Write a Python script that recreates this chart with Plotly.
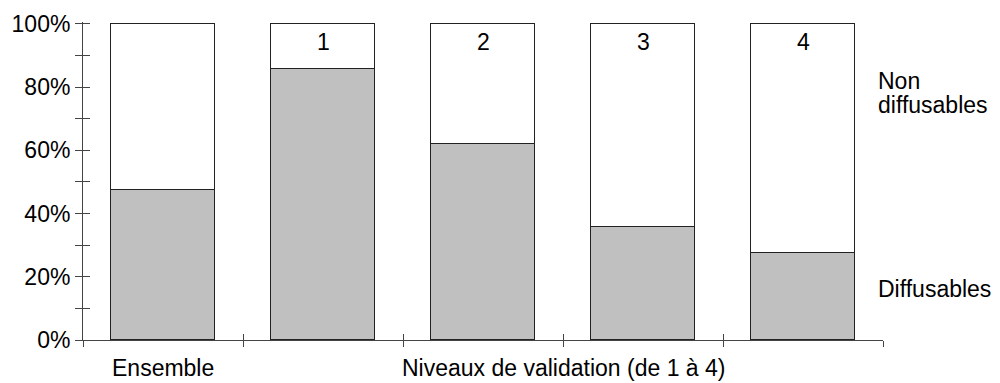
import plotly.graph_objects as go

# Part des enregistrements diffusables / non diffusables
categories = ["Ensemble", "1", "2", "3", "4"]
x_pos = [0, 1, 2, 3, 4]
diffusables = [47.5, 85.7, 62.0, 35.9, 27.4]
non_diffusables = [52.5, 14.3, 38.0, 64.1, 72.6]
y_ticks = [0, 10, 20, 30, 40, 50, 60, 70, 80, 90, 100]
y_ticktext = ["0%", "", "20%", "", "40%", "", "60%", "", "80%", "", "100%"]
x_bounds = [-0.5, 0.5, 1.5, 2.5, 3.5, 4.5]

FONT = "Liberation Sans, Arial, sans-serif"
AXIS = "#444444"
FS = 23
Y_RANGE = [0, 100.6]  # a little headroom so the bar tops are not clipped

fig = go.Figure()
fig.add_trace(go.Bar(x=x_pos, y=diffusables, width=0.65, name="Diffusables",
                     marker=dict(color="#c0c0c0", line=dict(color="#222222", width=1.2))))
fig.add_trace(go.Bar(x=x_pos, y=non_diffusables, width=0.65, name="Non diffusables",
                     marker=dict(color="#ffffff", line=dict(color="#222222", width=1.2))))
# empty trace so the overlay axes (ticks crossing the axis lines) are drawn
fig.add_trace(go.Scatter(x=[None], y=[None], xaxis="x2", yaxis="y2",
                         mode="markers", hoverinfo="skip"))

# level numbers at the top of bars 1-4
for xi, lab in zip(x_pos[1:], categories[1:]):
    fig.add_annotation(x=xi, y=94.3, text=lab, showarrow=False,
                       font=dict(size=FS, color="black"))

# category labels below the axis
fig.add_annotation(x=0, y=0, yshift=-28, text=categories[0], showarrow=False,
                   font=dict(size=FS, color="black"))
fig.add_annotation(x=2.5, y=0, yshift=-28, text="Niveaux de validation (de 1 à 4)",
                   showarrow=False, font=dict(size=FS, color="black"))

# series labels on the right
fig.add_annotation(xref="paper", yref="y", x=0.991, y=82, xanchor="left",
                   text="Non", showarrow=False, font=dict(size=FS, color="black"))
fig.add_annotation(xref="paper", yref="y", x=0.991, y=74.5, xanchor="left",
                   text="diffusables", showarrow=False, font=dict(size=FS, color="black"))
fig.add_annotation(xref="paper", yref="y", x=0.991, y=16, xanchor="left",
                   text="Diffusables", showarrow=False, font=dict(size=FS, color="black"))

fig.update_layout(
    width=1000, height=383,
    margin=dict(l=83, r=117, t=22, b=43),
    barmode="stack", bargap=0,
    showlegend=False,
    plot_bgcolor="white", paper_bgcolor="white",
    font=dict(family=FONT, size=FS, color="black"),
    xaxis=dict(range=[-0.5, 4.5], tickvals=x_bounds, ticktext=[""] * 6,
               ticks="outside", ticklen=6, tickcolor=AXIS, showline=True,
               linecolor=AXIS, linewidth=1, showgrid=False, zeroline=False),
    xaxis2=dict(range=[-0.5, 4.5], overlaying="x", anchor="y2", side="bottom",
                tickvals=x_bounds, ticks="inside", ticklen=6, tickcolor=AXIS,
                showticklabels=False, showline=False, showgrid=False,
                zeroline=False),
    yaxis=dict(range=Y_RANGE, tickvals=y_ticks, ticktext=y_ticktext,
               ticks="outside", ticklen=7, tickcolor=AXIS, showline=True,
               linecolor=AXIS, linewidth=1, showgrid=False, zeroline=False),
    yaxis2=dict(range=Y_RANGE, overlaying="y", anchor="x2", side="left",
                tickvals=y_ticks, ticks="inside", ticklen=7, tickcolor=AXIS,
                showticklabels=False, showline=False, showgrid=False,
                zeroline=False),
)

fig.write_html("out.html", config={"displayModeBar": False},
               post_script="document.body.style.margin='0';")
